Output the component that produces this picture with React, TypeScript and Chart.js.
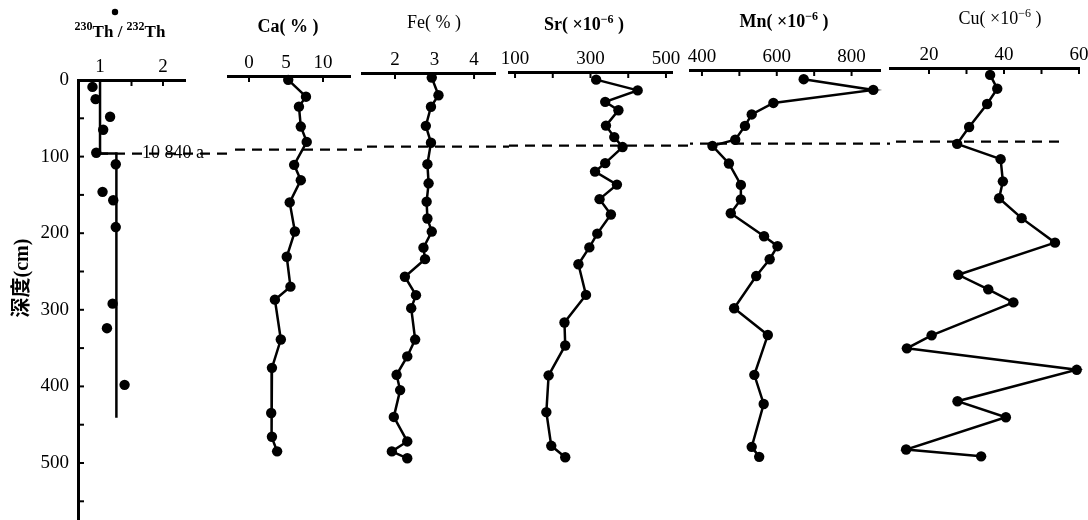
import React, { useEffect, useRef } from "react";
import { Chart, registerables } from "chart.js";

Chart.register(...registerables);
Chart.defaults.color = "#000";
Chart.defaults.font.family = "'Liberation Serif', 'DejaVu Serif', serif";

// ---------------- data ----------------
const depthTicks = [0, 50, 100, 150, 200, 250, 300, 350, 400, 450, 500, 550];
const depthLabels = [0, 100, 200, 300, 400, 500];
const depthTitle = "深度(cm)";
const boundaryDepth = 96;
const boundaryAge = "10 840 a";

const thDepth = [9, 25, 48, 65, 95, 110, 146, 157, 192, 292, 324, 398];
const thRatio = [0.88, 0.93, 1.16, 1.05, 0.94, 1.25, 1.04, 1.21, 1.25, 1.2, 1.11, 1.39];
const thStepDepth = [0, 96, 96, 441];
const thStepRatio = [1.0, 1.0, 1.26, 1.26];
const thTicks = [1, 1.5, 2];
const thLabels = [1, 2];

const caDepth = [5, 27, 40, 66, 86, 116, 136, 165, 203, 236, 275, 292, 344, 381, 440, 471, 490];
const caValue = [5.3, 7.7, 6.75, 7.0, 7.8, 6.1, 7.0, 5.5, 6.2, 5.1, 5.6, 3.5, 4.3, 3.1, 3.0, 3.1, 3.8];
const caTicks = [0, 5, 10];
const caLabels = [0, 5, 10];

const feDepth = [6, 29, 44, 69, 91, 119, 144, 168, 190, 207, 228, 243, 266, 290, 307, 348, 370, 394, 414, 449, 481, 494, 503];
const feValue = [2.93, 3.1, 2.91, 2.78, 2.91, 2.82, 2.85, 2.8, 2.82, 2.93, 2.72, 2.76, 2.25, 2.53, 2.41, 2.51, 2.31, 2.04, 2.13, 1.97, 2.31, 1.92, 2.31];
const feTicks = [2, 3, 4];
const feLabels = [2, 3, 4];

const srDepth = [10, 24, 39, 50, 70, 85, 98, 119, 130, 147, 166, 186, 211, 229, 251, 291, 327, 357, 396, 444, 488, 503];
const srValue = [315, 425, 339, 374, 341, 363, 385, 339, 312, 370, 324, 354, 318, 297, 268, 288, 231, 233, 189, 183, 196, 233];
const srTicks = [100, 200, 300, 400, 500];
const srLabels = [100, 300, 500];

const mnDepth = [12, 26, 43, 58, 73, 91, 99, 122, 150, 169, 187, 217, 230, 247, 269, 311, 346, 398, 436, 492, 505];
const mnValue = [672, 858, 591, 533, 515, 489, 428, 472, 504, 504, 477, 566, 602, 581, 545, 486, 576, 540, 565, 533, 553];
const mnTicks = [400, 500, 600, 700, 800];
const mnLabels = [400, 600, 800];

const cuDepth = [9, 27, 47, 77, 99, 119, 148, 170, 196, 228, 270, 289, 306, 349, 366, 394, 435, 456, 498, 507];
const cuValue = [36.3, 38.2, 35.5, 30.7, 27.5, 39.1, 39.7, 38.7, 44.7, 53.6, 27.8, 35.8, 42.5, 20.7, 14.1, 59.4, 27.6, 40.5, 13.9, 33.9];
const cuTicks = [20, 30, 40, 50, 60];
const cuLabels = [20, 40, 60];

// title pieces: [text, superscript?]
const thTitle: [string, number][] = [["230", 1], ["Th", 0], [" / ", 0], ["232", 1], ["Th", 0]];
const caTitle: [string, number][] = [["Ca( % )", 0]];
const feTitle: [string, number][] = [["Fe( % )", 0]];
const srTitle: [string, number][] = [["Sr( ×10", 0], ["−6", 1], [" )", 0]];
const mnTitle: [string, number][] = [["Mn( ×10", 0], ["−6", 1], [" )", 0]];
const cuTitle: [string, number][] = [["Cu( ×10", 0], ["−6", 1], [" )", 0]];

// ---------------- layout (pixels) ----------------
const W = 1088;
const H = 520;
const CM_PX = 0.766;
const DEPTH_MAX = 574;
const AXIS_H = 30;
const Y_AXIS_W = 60;

type Layout = {
  left: number; right: number; top: number;
  titleX: number; titleY: number; titleSize: number; titleWeight: string;
  dashFrom: number; dashTo: number;
};

const LAYOUT: Record<string, Layout> = {
  th: { left: 78, right: 185, top: 80, titleX: 120, titleY: 37, titleSize: 17, titleWeight: "bold", dashFrom: 100, dashTo: 228 },
  ca: { left: 228, right: 350, top: 76, titleX: 288, titleY: 32, titleSize: 18, titleWeight: "bold", dashFrom: 228, dashTo: 362 },
  fe: { left: 362, right: 495, top: 73, titleX: 434, titleY: 28, titleSize: 18, titleWeight: "normal", dashFrom: 362, dashTo: 509 },
  sr: { left: 509, right: 672, top: 72, titleX: 584, titleY: 30, titleSize: 18, titleWeight: "bold", dashFrom: 509, dashTo: 690 },
  mn: { left: 690, right: 880, top: 70, titleX: 784, titleY: 27, titleSize: 18, titleWeight: "bold", dashFrom: 690, dashTo: 890 },
  cu: { left: 890, right: 1079, top: 68, titleX: 1000, titleY: 24, titleSize: 18, titleWeight: "normal", dashFrom: 890, dashTo: 1060 },
};

type SeriesSpec = { xs: number[]; ys: number[]; line: boolean; points: boolean };
type PanelSpec = {
  id: string; title: [string, number][]; min: number; max: number;
  ticks: number[]; labels: number[]; depthAxis: boolean; series: SeriesSpec[];
};

const PANELS: PanelSpec[] = [
  {
    id: "th", title: thTitle, min: 0.65, max: 2.35, ticks: thTicks, labels: thLabels, depthAxis: true,
    series: [
      { xs: thStepRatio, ys: thStepDepth, line: true, points: false },
      { xs: thRatio, ys: thDepth, line: false, points: true },
    ],
  },
  { id: "ca", title: caTitle, min: -2.84, max: 13.65, ticks: caTicks, labels: caLabels, depthAxis: false, series: [{ xs: caValue, ys: caDepth, line: true, points: true }] },
  { id: "fe", title: feTitle, min: 1.165, max: 4.53, ticks: feTicks, labels: feLabels, depthAxis: false, series: [{ xs: feValue, ys: feDepth, line: true, points: true }] },
  { id: "sr", title: srTitle, min: 84, max: 516, ticks: srTicks, labels: srLabels, depthAxis: false, series: [{ xs: srValue, ys: srDepth, line: true, points: true }] },
  { id: "mn", title: mnTitle, min: 368, max: 876, ticks: mnTicks, labels: mnLabels, depthAxis: false, series: [{ xs: mnValue, ys: mnDepth, line: true, points: true }] },
  { id: "cu", title: cuTitle, min: 9.6, max: 60, ticks: cuTicks, labels: cuLabels, depthAxis: false, series: [{ xs: cuValue, ys: cuDepth, line: true, points: true }] },
];

const SERIF = "'Liberation Serif', 'DejaVu Serif', serif";

function drawRich(ctx: CanvasRenderingContext2D, segs: [string, number][], cx: number, baseY: number, size: number, weight: string) {
  const main = `${weight} ${size}px ${SERIF}`;
  const sup = `${weight} ${Math.round(size * 0.68)}px ${SERIF}`;
  let total = 0;
  const widths = segs.map(([t, s]) => {
    ctx.font = s ? sup : main;
    const w = ctx.measureText(t).width;
    total += w;
    return w;
  });
  let x = cx - total / 2;
  ctx.textAlign = "left";
  ctx.textBaseline = "alphabetic";
  ctx.fillStyle = "#000";
  segs.forEach(([t, s], i) => {
    ctx.font = s ? sup : main;
    ctx.fillText(t, x, s ? baseY - 7 : baseY);
    x += widths[i];
  });
}

function makePlugin(p: PanelSpec, L: Layout) {
  return {
    id: "decor_" + p.id,
    beforeDatasetsDraw(chart: any) {
      const ctx: CanvasRenderingContext2D = chart.ctx;
      const sy = chart.scales.y;
      const dy = sy.getPixelForValue(boundaryDepth);
      ctx.save();
      ctx.strokeStyle = "#000";
      ctx.lineWidth = 2.2;
      ctx.setLineDash([10, 7]);
      ctx.lineDashOffset = -L.dashFrom;
      ctx.beginPath();
      ctx.moveTo(L.dashFrom, dy);
      ctx.lineTo(L.dashTo, dy);
      ctx.stroke();
      ctx.setLineDash([]);
      if (p.depthAxis) {
        ctx.font = `18px ${SERIF}`;
        ctx.textAlign = "left";
        ctx.textBaseline = "middle";
        ctx.fillStyle = "#000";
        ctx.fillText(boundaryAge, 142, dy);
      }
      ctx.restore();
    },
    afterDraw(chart: any) {
      const ctx: CanvasRenderingContext2D = chart.ctx;
      const sx = chart.scales.x;
      const sy = chart.scales.y;
      const area = chart.chartArea;
      ctx.save();
      ctx.strokeStyle = "#000";
      ctx.lineWidth = 2;
      for (const t of sx.ticks) {
        const px = sx.getPixelForValue(t.value);
        ctx.beginPath();
        ctx.moveTo(px, area.top);
        ctx.lineTo(px, area.top + 6);
        ctx.stroke();
      }
      if (p.depthAxis) {
        for (const t of sy.ticks) {
          const py = sy.getPixelForValue(t.value);
          ctx.beginPath();
          ctx.moveTo(area.left, py);
          ctx.lineTo(area.left + 6, py);
          ctx.stroke();
        }
        // depth axis title
        ctx.save();
        ctx.translate(23, 278);
        ctx.rotate(-Math.PI / 2);
        ctx.font = `bold 20px ${SERIF}, 'Noto Sans CJK SC'`;
        ctx.textAlign = "center";
        ctx.textBaseline = "middle";
        ctx.fillStyle = "#000";
        ctx.fillText(depthTitle, 0, 0);
        ctx.restore();
        // small mark above the ratio title
        ctx.beginPath();
        ctx.arc(115, 12, 3.2, 0, Math.PI * 2);
        ctx.fillStyle = "#000";
        ctx.fill();
      }
      drawRich(ctx, p.title, L.titleX, L.titleY, L.titleSize, L.titleWeight);
      ctx.restore();
    },
  };
}

function Panel({ spec }: { spec: PanelSpec }) {
  const ref = useRef<HTMLCanvasElement | null>(null);
  useEffect(() => {
    if (!ref.current) return;
    const L = LAYOUT[spec.id];
    const bottom = L.top + DEPTH_MAX * CM_PX;
    const datasets = spec.series.map((s) => ({
      data: s.xs.map((v, i) => ({ x: v, y: s.ys[i] })),
      showLine: s.line,
      borderColor: "#000",
      backgroundColor: "#000",
      borderWidth: 2.5,
      pointRadius: s.points ? 5.2 : 0,
      pointBackgroundColor: "#000",
      pointBorderColor: "#000",
      pointBorderWidth: 0,
      clip: false as any,
      tension: 0,
    }));
    const chart = new Chart(ref.current, {
      type: "scatter",
      data: { datasets },
      options: {
        animation: false,
        responsive: false,
        devicePixelRatio: 1,
        events: [],
        layout: {
          autoPadding: false,
          padding: {
            left: L.left - (spec.depthAxis ? Y_AXIS_W : 0),
            right: W - L.right,
            top: L.top - AXIS_H,
            bottom: Math.max(0, H - bottom),
          },
        },
        plugins: { legend: { display: false }, tooltip: { enabled: false }, title: { display: false } },
        scales: {
          x: {
            type: "linear",
            position: "top",
            min: spec.min,
            max: spec.max,
            afterFit: (s: any) => {
              s.height = AXIS_H;
              s.paddingLeft = 0;
              s.paddingRight = 0;
            },
            afterBuildTicks: (s: any) => { s.ticks = spec.ticks.map((v) => ({ value: v })); },
            grid: { display: true, drawOnChartArea: false, drawTicks: false },
            border: { display: true, color: "#000", width: 3 },
            ticks: {
              autoSkip: false,
              maxRotation: 0,
              padding: 2,
              color: "#000",
              font: { size: 19, family: SERIF },
              callback: (v: any) => (spec.labels.includes(Number(v)) ? String(v) : ""),
            },
          },
          y: {
            type: "linear",
            display: spec.depthAxis,
            reverse: true,
            min: 0,
            max: DEPTH_MAX,
            afterFit: (s: any) => {
              s.width = spec.depthAxis ? Y_AXIS_W : 0;
              s.paddingTop = 0;
              s.paddingBottom = 0;
            },
            afterBuildTicks: (s: any) => { s.ticks = depthTicks.map((v) => ({ value: v })); },
            grid: { display: true, drawOnChartArea: false, drawTicks: false },
            border: { display: true, color: "#000", width: 3 },
            ticks: {
              autoSkip: false,
              padding: 9,
              color: "#000",
              font: { size: 19, family: SERIF },
              callback: (v: any) => (depthLabels.includes(Number(v)) ? String(v) : ""),
            },
          },
        },
      },
      plugins: [makePlugin(spec, L)],
    } as any);
    return () => chart.destroy();
  }, [spec]);
  return (
    <canvas
      ref={ref}
      width={W}
      height={H}
      style={{ position: "absolute", left: 0, top: 0, width: W, height: H }}
    />
  );
}

export default function App() {
  return (
    <div style={{ position: "fixed", left: 0, top: 0, width: W, height: H, background: "#fff", overflow: "hidden" }}>
      {PANELS.map((p) => (
        <Panel key={p.id} spec={p} />
      ))}
    </div>
  );
}
